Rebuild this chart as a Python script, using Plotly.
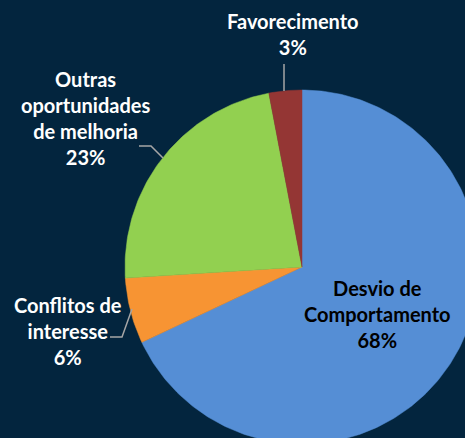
import numpy as np
import plotly.graph_objects as go

categories = ["Desvio de Comportamento", "Conflitos de interesse",
              "Outras oportunidades de melhoria", "Favorecimento"]
values = [68, 6, 23, 3]
label_text = ["Desvio de<br>Comportamento<br>68%", "Conflitos de<br>interesse<br>6%",
              "Outras<br>oportunidades<br>de melhoria<br>23%", "Favorecimento<br>3%"]
colors = ["#558ED5", "#F79433", "#92D050", "#943634"]

W, H = 465, 438
BG = "#03253E"
CX, CY, R = 302, 267, 177

fig = go.Figure()
total = sum(values)
start = 0.0
for name, v, c in zip(categories, values, colors):
    frac0 = start / total
    frac1 = (start + v) / total
    # clockwise from 12 o'clock; y axis reversed (pixel-like)
    ang = np.linspace(frac0, frac1, max(int(v * 4), 8)) * 2 * np.pi
    xs = np.concatenate([[CX], CX + R * np.sin(ang), [CX]])
    ys = np.concatenate([[CY], CY - R * np.cos(ang), [CY]])
    fig.add_trace(go.Scatter(x=xs, y=ys, fill="toself", fillcolor=c, mode="lines",
                             line=dict(color=c, width=0.5), name=name,
                             hoverinfo="name", showlegend=False))
    start += v

font_w = dict(family="Lato, Carlito, Calibri, sans-serif", size=20, color="white")
font_k = dict(family="Lato, Carlito, Calibri, sans-serif", size=20, color="black")

annots = [
    dict(x=377, y=314, text="<b>" + label_text[0] + "</b>", font=font_k),
    dict(x=68, y=331, text="<b>" + label_text[1] + "</b>", font=font_w),
    dict(x=85, y=118, text="<b>" + label_text[2] + "</b>", font=font_w),
    dict(x=293, y=34, text="<b>" + label_text[3] + "</b>", font=font_w),
]
for a in annots:
    fig.add_annotation(xref="x", yref="y", showarrow=False, xanchor="center",
                       yanchor="middle", align="center", **a)

leader = dict(color="#A6A6A6", width=1.5)
fig.add_shape(type="path", path="M 284 64 L 284 91", line=leader, xref="x", yref="y")
fig.add_shape(type="path", path="M 139 146 L 151 146 L 163 158", line=leader, xref="x", yref="y")
fig.add_shape(type="path", path="M 110 337 L 122 337 L 132 309", line=leader, xref="x", yref="y")

fig.update_layout(
    width=W, height=H,
    margin=dict(l=0, r=0, t=0, b=0),
    paper_bgcolor=BG, plot_bgcolor=BG,
    xaxis=dict(range=[0, W], visible=False, fixedrange=True),
    yaxis=dict(range=[H, 0], visible=False, fixedrange=True),
    showlegend=False,
)

fig.write_html("out.html", config={"displayModeBar": False},
               post_script="document.body.style.margin='0';document.body.style.overflow='hidden';document.body.style.background='" + BG + "';")
